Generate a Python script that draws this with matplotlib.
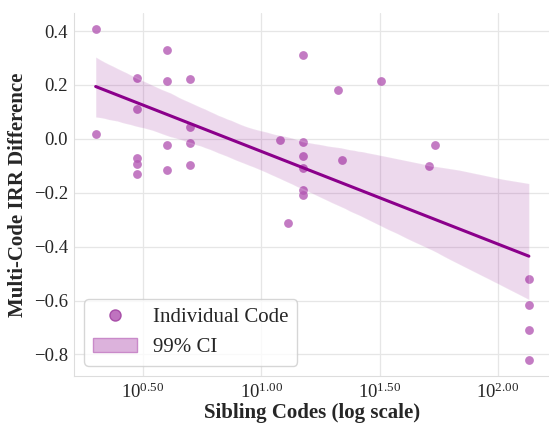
import matplotlib
matplotlib.use("Agg")
import matplotlib.pyplot as plt
import matplotlib.ticker as mticker
from matplotlib.lines import Line2D
from matplotlib.patches import Patch
import numpy as np
import seaborn as sns

# --- data
sibling_codes = [2, 2,
                 3, 3, 3, 3, 3,
                 4, 4, 4, 4,
                 5, 5, 5, 5,
                 12, 13,
                 15, 15, 15, 15, 15, 15,
                 21, 22, 32, 51, 54,
                 135, 135, 135, 135]
irr_diff = [0.407, 0.017,
            0.227, 0.109, -0.070, -0.093, -0.130,
            0.331, 0.215, -0.021, -0.114,
            0.222, 0.044, -0.015, -0.096,
            -0.006, -0.311,
            0.311, -0.010, -0.063, -0.107, -0.191, -0.209,
            0.181, -0.079, 0.215, -0.100, -0.021,
            -0.521, -0.616, -0.711, -0.819]
x_ticks = [0.5, 1.0, 1.5, 2.0]
y_ticks = [0.4, 0.2, 0.0, -0.2, -0.4, -0.6, -0.8]

sns.set_style("whitegrid")
plt.rcParams['font.family'] = ['Liberation Serif', 'DejaVu Serif']
plt.rcParams['mathtext.fontset'] = 'custom'
plt.rcParams['mathtext.rm'] = 'Liberation Serif'
plt.rcParams['mathtext.it'] = 'Liberation Serif:italic'
plt.rcParams['axes.unicode_minus'] = True

point_color = '#b45ab4'
line_color = '#8b008b'

fig = plt.figure(figsize=[5.49, 4.23], dpi=100)
ax = fig.add_axes([0.1348, 0.111, 0.868, 0.859])

log_x = np.log10(sibling_codes)
# band drawn by seaborn's bootstrap (its width in the picture fits the 95% interval)
sns.regplot(x=log_x, y=np.array(irr_diff), ax=ax, ci=95, seed=2, color=line_color,
            scatter_kws={'color': point_color, 'alpha': 0.8, 's': 40, 'linewidths': 0},
            line_kws={'color': line_color, 'lw': 2.2})

ax.set_xticks(x_ticks)
ax.xaxis.set_major_formatter(mticker.FuncFormatter(lambda v, p: '$10^{%.2f}$' % v))
ax.set_yticks(y_ticks)
ax.tick_params(labelsize=13.5, pad=1)
ax.grid(True, color='#e6e6e6', lw=0.9)
for s in ['left', 'bottom']:
    ax.spines[s].set_color('#dddddd')
sns.despine(ax=ax)

ax.set_xlabel('Sibling Codes (log scale)', fontsize=15, fontweight='bold', labelpad=1)
ax.set_ylabel('Multi-Code IRR Difference', fontsize=15, fontweight='bold', labelpad=4)

handles = [Line2D([], [], marker='o', ls='', markersize=8, markerfacecolor=point_color,
                  markeredgecolor='#a040a0', alpha=0.85),
           Patch(facecolor='#dcb2dc', edgecolor='#c98ac9')]
ax.legend(handles, ['Individual Code', '99% CI'], loc='lower left', fontsize=15,
          frameon=True, handlelength=2.1)

fig.savefig('out.png', dpi=100)
